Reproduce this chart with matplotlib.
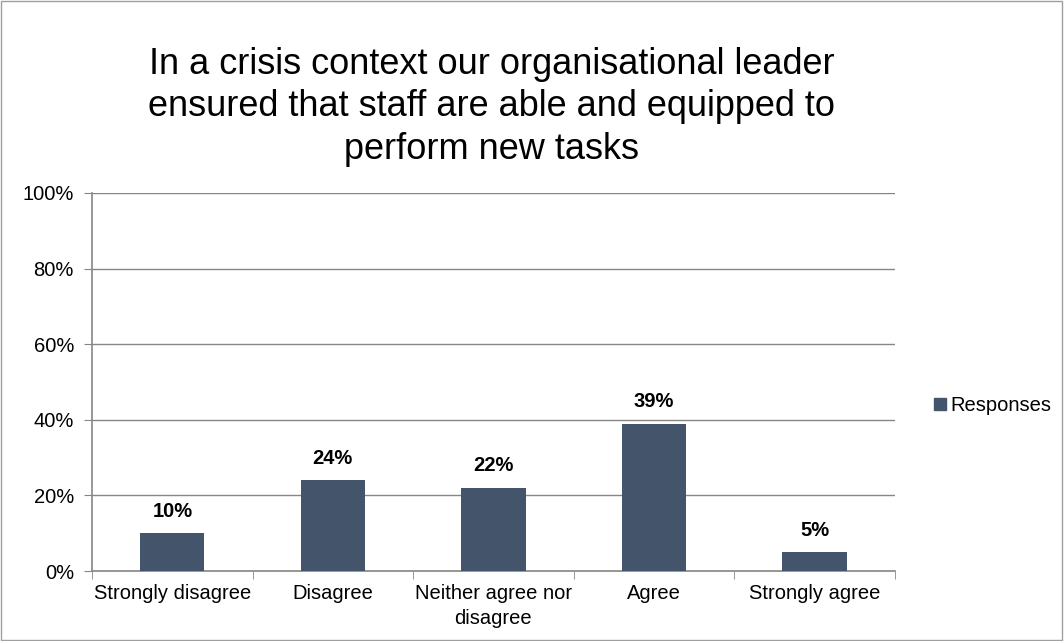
import matplotlib
matplotlib.use("Agg")
import matplotlib.pyplot as plt
from matplotlib.patches import Rectangle
from matplotlib.lines import Line2D

plt.rcParams['font.family'] = ['Liberation Sans', 'DejaVu Sans']

categories = ["Strongly disagree", "Disagree", "Neither agree nor\ndisagree", "Agree", "Strongly agree"]
responses = [10, 24, 22, 39, 5]
yticks = [0, 20, 40, 60, 80, 100]
title = "In a crisis context our organisational leader\nensured that staff are able and equipped to\nperform new tasks"
series_name = "Responses"

bar_color = "#44546A"
grid_color = "#868686"
label_size = 14.5

fig = plt.figure(figsize=(10.64, 6.41), dpi=100)
ax = fig.add_axes([0.0865, 0.109, 0.7545, 0.590])

x = list(range(len(categories)))
ax.bar(x, responses, width=0.4, color=bar_color, zorder=3, label=series_name)

for xi, v in zip(x, responses):
    ax.annotate(f"{v}%", (xi, v), xytext=(0, 9), textcoords="offset points",
                ha="center", va="bottom", fontsize=label_size, fontweight="bold", color="black")

ax.set_xlim(-0.5, len(categories) - 0.5)
ax.set_ylim(0, 100)
ax.set_yticks(yticks)
ax.set_yticklabels([f"{t}%" for t in yticks], fontsize=label_size)
ax.yaxis.grid(True, color=grid_color, linewidth=1, zorder=0)

ax.set_xticks(x)
ax.set_xticklabels(categories, fontsize=label_size, linespacing=1.45)
ax.set_xticks([i - 0.5 for i in range(len(categories) + 1)], minor=True)
ax.tick_params(axis="x", which="major", length=0, pad=9)
ax.tick_params(axis="x", which="minor", length=6, color=grid_color, direction="out")
ax.tick_params(axis="y", length=6, color=grid_color, direction="out", pad=7)

for side in ("top", "right"):
    ax.spines[side].set_visible(False)
for side in ("left", "bottom"):
    ax.spines[side].set_color(grid_color)
    ax.spines[side].set_linewidth(1.2)

fig.text(0.462, 0.927, title, ha="center", va="top", fontsize=26, linespacing=1.28)

handle = Line2D([], [], marker="s", linestyle="none", color=bar_color, markersize=8)
fig.legend([handle], [series_name], loc="center left", bbox_to_anchor=(0.857, 0.368),
           frameon=False, fontsize=14.5, handletextpad=0.0, handlelength=1.0)

# Thin grey frame around the whole figure
fig.patches.append(Rectangle((0.001, 0.001), 0.997, 0.997, transform=fig.transFigure,
                             fill=False, edgecolor="#A0A0A0", linewidth=1))

fig.savefig("out.png", dpi=100, facecolor="white")
